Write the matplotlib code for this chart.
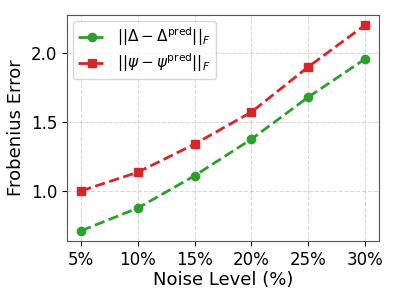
import matplotlib
matplotlib.use("Agg")
import matplotlib.pyplot as plt

noise = [5, 10, 15, 20, 25, 30]
tick_labels = ["5%", "10%", "15%", "20%", "25%", "30%"]
delta_err = [0.71, 0.875, 1.11, 1.375, 1.68, 1.957]
psi_err = [1.0, 1.135, 1.34, 1.572, 1.90, 2.203]

fig = plt.figure(figsize=(3.99, 2.99), dpi=100)
ax = fig.add_axes([0.168, 0.194, 0.782, 0.756])
ax.plot(noise, delta_err, '--o', color='#2ca02c', lw=2, ms=6,
        label=r'$||\Delta - \Delta^{\mathrm{pred}}||_F$')
ax.plot(noise, psi_err, '--s', color='#d62728', lw=2, ms=6,
        label=r'$||\psi - \psi^{\mathrm{pred}}||_F$')
ax.set_xticks(noise)
ax.set_xticklabels(tick_labels)
ax.set_yticks([1.0, 1.5, 2.0])
ax.tick_params(labelsize=12)
ax.set_xlabel('Noise Level (%)', fontsize=13, labelpad=2)
ax.set_ylabel('Frobenius Error', fontsize=13)
ax.grid(True, linestyle='--', alpha=0.5)
ax.legend(loc='upper left', fontsize=11, labelspacing=0.2, borderpad=0.3,
          handlelength=1.9, handletextpad=0.7, borderaxespad=0.4)
for s in ax.spines.values():
    s.set_color('#555555')
fig.savefig('out.png', dpi=100)
